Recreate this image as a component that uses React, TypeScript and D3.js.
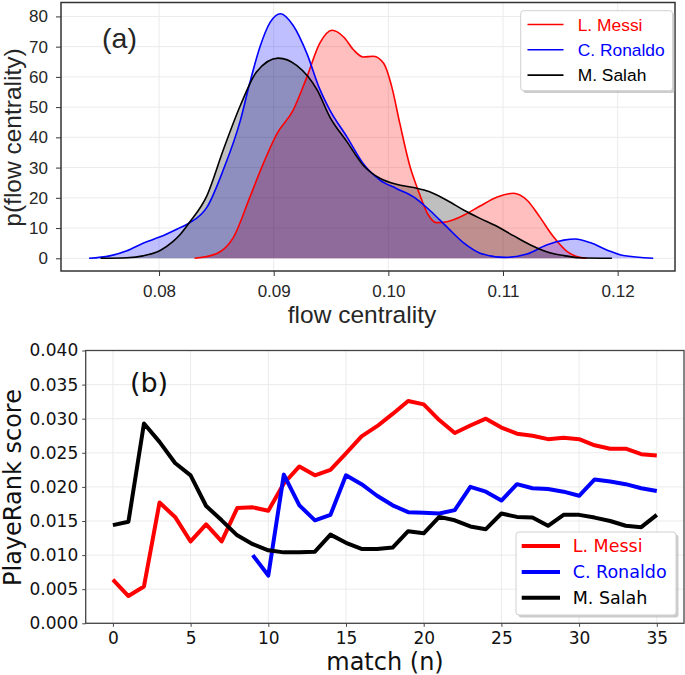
import React, { useEffect, useRef } from 'react';
import * as d3 from 'd3';

// players, same order in both panels
const players = ['L. Messi', 'C. Ronaldo', 'M. Salah'];
const playerColors = ['#ff0000', '#0000ff', '#000000'];
const fillColors = ['rgba(255,0,0,0.25)', 'rgba(0,0,255,0.25)', 'rgba(0,0,0,0.25)'];

// (a) density of flow centrality, [flow centrality, density]
const messiDensity: [number, number][] = [
    [0.0831, 0], [0.0850, 1.5], [0.0865, 7], [0.0879, 20], [0.0891, 31.4], [0.0903, 41.3],
    [0.0917, 49], [0.0929, 60], [0.0940, 71], [0.0951, 75.4], [0.0961, 73.2], [0.0970, 68.8],
    [0.0978, 66.6], [0.0987, 66.8], [0.0996, 64.4], [0.1003, 56.7], [0.1010, 44.6], [0.1019, 30.2],
    [0.1026, 22.5], [0.1034, 14.9], [0.1042, 11.8], [0.1051, 12.1], [0.1066, 14.3], [0.1080, 17.3],
    [0.1095, 20.3], [0.1109, 21.5], [0.1121, 19.2], [0.1132, 13.7], [0.1144, 7.1], [0.1156, 2.2],
    [0.1167, 0.3], [0.1173, 0],
];
const ronaldoDensity: [number, number][] = [
    [0.0739, 0], [0.0757, 0.8], [0.0772, 2.5], [0.0786, 5], [0.0801, 7.1], [0.0817, 9.9],
    [0.0826, 11.6], [0.0842, 17], [0.0856, 29.2], [0.0871, 45.7], [0.0879, 57.8], [0.0888, 69.9],
    [0.0897, 78.1], [0.0906, 80.9], [0.0917, 77], [0.0929, 67.7], [0.0940, 56.1], [0.0949, 49],
    [0.0964, 40.1], [0.0978, 31.4], [0.0993, 25.8], [0.1007, 23.1], [0.1022, 20.3], [0.1036, 15.9],
    [0.1051, 10.4], [0.1066, 5.0], [0.1080, 1.7], [0.1102, 0.3], [0.1121, 1.4], [0.1138, 4.4],
    [0.1153, 6.0], [0.1163, 6.4], [0.1176, 5.2], [0.1191, 2.7], [0.1205, 0.9], [0.1231, 0],
];
const salahDensity: [number, number][] = [
    [0.0749, 0], [0.0772, 0.2], [0.0786, 0.8], [0.0801, 2.6], [0.0812, 5.5], [0.0818, 7.7],
    [0.0826, 11.6], [0.0842, 20.9], [0.0856, 35.8], [0.0871, 50.6], [0.0885, 61.6], [0.0904, 66.2],
    [0.0920, 63.8], [0.0938, 55.6], [0.0949, 46.7], [0.0964, 38.5], [0.0978, 30.8], [0.0993, 26.4],
    [0.1007, 24.5], [0.1022, 23.4], [0.1036, 22], [0.1051, 19.2], [0.1066, 15.9], [0.1080, 13.2],
    [0.1095, 10.5], [0.1109, 7.5], [0.1124, 4.4], [0.1138, 2.2], [0.1153, 0.9], [0.1167, 0.2],
    [0.1195, 0],
];

// (b) PlayeRank score per match
const messiScore = [
    0.0064, 0.0040, 0.0054, 0.0177, 0.0156, 0.0120, 0.0145, 0.0120, 0.0169, 0.0170,
    0.0165, 0.0205, 0.0230, 0.0217, 0.0225, 0.0249, 0.0274, 0.0289, 0.0307, 0.0326,
    0.0321, 0.0298, 0.0279, 0.0290, 0.0300, 0.0287, 0.0278, 0.0275, 0.0270, 0.0272,
    0.0270, 0.0261, 0.0256, 0.0256, 0.0248, 0.0246,
];
const ronaldoFirstMatch = 9;
const ronaldoScore = [
    0.0100, 0.0070, 0.0218, 0.0173, 0.0151, 0.0159, 0.0217, 0.0204, 0.0187, 0.0173,
    0.0163, 0.0162, 0.0161, 0.0166, 0.0200, 0.0193, 0.0180, 0.0204, 0.0198, 0.0197,
    0.0193, 0.0187, 0.0211, 0.0208, 0.0204, 0.0198, 0.0194,
];
const salahScore = [
    0.0144, 0.0149, 0.0293, 0.0266, 0.0235, 0.0217, 0.0172, 0.0151, 0.0129, 0.0116,
    0.0107, 0.0104, 0.0104, 0.0105, 0.0130, 0.0118, 0.0109, 0.0109, 0.0111, 0.0135,
    0.0132, 0.0156, 0.0151, 0.0142, 0.0138, 0.0161, 0.0156, 0.0155, 0.0143, 0.0159,
    0.0159, 0.0155, 0.0150, 0.0143, 0.0141, 0.0159,
];

const flowTicks = [0.08, 0.09, 0.10, 0.11, 0.12];
const densityTicks = [0, 10, 20, 30, 40, 50, 60, 70, 80];
const matchTicks = [0, 5, 10, 15, 20, 25, 30, 35];
const scoreTicks = [0, 0.005, 0.01, 0.015, 0.02, 0.025, 0.03, 0.035, 0.04];

const SANS_A = '"Liberation Sans", Arial, sans-serif';
const SANS_B = '"DejaVu Sans", sans-serif';

const DensityAndRank: React.FC = () => {
    const svgRef = useRef<SVGSVGElement>(null);

    useEffect(() => {
        if (!svgRef.current) return;
        const svg = d3.select(svgRef.current);
        svg.selectAll('*').remove();

        // ---------- panel (a) ----------
        const a = { left: 61, top: 2.5, right: 675, bottom: 271 };
        const xA = d3.scaleLinear().domain([0.07145, 0.125]).range([a.left, a.right]);
        const yA = d3.scaleLinear().domain([-4.2, 84.6]).range([a.bottom, a.top]);
        const gA = svg.append('g');

        // grid
        gA.selectAll('.gx').data(flowTicks).enter().append('line')
            .attr('x1', d => xA(d)).attr('x2', d => xA(d))
            .attr('y1', a.top).attr('y2', a.bottom)
            .attr('stroke', '#ebebeb').attr('stroke-width', 1);
        gA.selectAll('.gy').data(densityTicks).enter().append('line')
            .attr('x1', a.left).attr('x2', a.right)
            .attr('y1', d => yA(d)).attr('y2', d => yA(d))
            .attr('stroke', '#ebebeb').attr('stroke-width', 1);

        const densities = [messiDensity, ronaldoDensity, salahDensity];
        const area = d3.area<[number, number]>()
            .x(d => xA(d[0])).y0(yA(0)).y1(d => yA(d[1]))
            .curve(d3.curveMonotoneX);
        const line = d3.line<[number, number]>()
            .x(d => xA(d[0])).y(d => yA(d[1]))
            .curve(d3.curveMonotoneX);

        densities.forEach((dd, i) => {
            gA.append('path').attr('d', area(dd)).attr('fill', fillColors[i]);
        });
        densities.forEach((dd, i) => {
            gA.append('path').attr('d', line(dd))
                .attr('fill', 'none').attr('stroke', playerColors[i]).attr('stroke-width', 1.6);
        });

        // axes
        const axA = gA.append('g').attr('transform', `translate(0,${a.bottom})`)
            .call(d3.axisBottom(xA).tickValues(flowTicks).tickFormat(d3.format('.2f')).tickSize(5).tickPadding(9));
        const ayA = gA.append('g').attr('transform', `translate(${a.left},0)`)
            .call(d3.axisLeft(yA).tickValues(densityTicks).tickSize(5).tickPadding(8));
        [axA, ayA].forEach(ax => {
            ax.select('.domain').remove();
            ax.selectAll('line').attr('stroke', '#333');
            ax.selectAll('text').attr('fill', '#262626')
                .style('font-family', SANS_A).style('font-size', '17px');
        });

        gA.append('rect')
            .attr('x', a.left).attr('y', a.top)
            .attr('width', a.right - a.left).attr('height', a.bottom - a.top)
            .attr('fill', 'none').attr('stroke', '#333').attr('stroke-width', 1.5);

        gA.append('text')
            .attr('x', (a.left + a.right) / 2 - 6).attr('y', 322.5)
            .attr('text-anchor', 'middle').attr('fill', '#262626')
            .style('font-family', SANS_A).style('font-size', '24.5px')
            .text('flow centrality');
        gA.append('text')
            .attr('transform', `translate(21,137.5) rotate(-90)`)
            .attr('text-anchor', 'middle').attr('fill', '#262626')
            .style('font-family', SANS_A).style('font-size', '24.5px')
            .text('p(flow centrality)');
        gA.append('text')
            .attr('x', 119.5).attr('y', 47.5)
            .attr('text-anchor', 'middle').attr('fill', '#262626')
            .style('font-family', SANS_A).style('font-size', '28.5px')
            .text('(a)');

        // legend (a)
        const legA = gA.append('g');
        legA.append('rect').attr('x', 523).attr('y', 13).attr('width', 152).attr('height', 80)
            .attr('rx', 3).attr('fill', '#999').attr('opacity', 0.5);
        legA.append('rect').attr('x', 520.7).attr('y', 10.7).attr('width', 152).attr('height', 80)
            .attr('rx', 3).attr('fill', '#fff').attr('stroke', '#d0d0d0').attr('stroke-width', 1);
        players.forEach((p, i) => {
            const yy = 24.5 + i * 25.3;
            legA.append('line').attr('x1', 527.5).attr('x2', 563.5).attr('y1', yy).attr('y2', yy)
                .attr('stroke', playerColors[i]).attr('stroke-width', 1.6);
            legA.append('text').attr('x', 577.7).attr('y', yy).attr('dy', '0.35em')
                .attr('fill', playerColors[i])
                .style('font-family', SANS_A).style('font-size', '17.4px')
                .text(p);
        });

        // ---------- panel (b) ----------
        const b = { left: 85.7, top: 350.5, right: 684, bottom: 623.3 };
        const xB = d3.scaleLinear().domain([-1.75, 36.75]).range([b.left, b.right]);
        const yB = d3.scaleLinear().domain([0, 0.04]).range([b.bottom, b.top]);
        const gB = svg.append('g');

        gB.selectAll('.gx').data(matchTicks).enter().append('line')
            .attr('x1', d => xB(d)).attr('x2', d => xB(d))
            .attr('y1', b.top).attr('y2', b.bottom)
            .attr('stroke', '#ebebeb').attr('stroke-width', 1);
        gB.selectAll('.gy').data(scoreTicks).enter().append('line')
            .attr('x1', b.left).attr('x2', b.right)
            .attr('y1', d => yB(d)).attr('y2', d => yB(d))
            .attr('stroke', '#ebebeb').attr('stroke-width', 1);

        const series: [number, number][][] = [
            messiScore.map((v, i) => [i, v] as [number, number]),
            ronaldoScore.map((v, i) => [i + ronaldoFirstMatch, v] as [number, number]),
            salahScore.map((v, i) => [i, v] as [number, number]),
        ];
        const scoreLine = d3.line<[number, number]>().x(d => xB(d[0])).y(d => yB(d[1]));
        series.forEach((s, i) => {
            gB.append('path').attr('d', scoreLine(s))
                .attr('fill', 'none').attr('stroke', playerColors[i])
                .attr('stroke-width', 4).attr('stroke-linejoin', 'round');
        });

        const axB = gB.append('g').attr('transform', `translate(0,${b.bottom})`)
            .call(d3.axisBottom(xB).tickValues(matchTicks).tickSize(3.5).tickPadding(5.5));
        const ayB = gB.append('g').attr('transform', `translate(${b.left},0)`)
            .call(d3.axisLeft(yB).tickValues(scoreTicks).tickFormat(d3.format('.3f')).tickSize(3.5).tickPadding(4));
        [axB, ayB].forEach(ax => {
            ax.select('.domain').remove();
            ax.selectAll('line').attr('stroke', '#444');
            ax.selectAll('text').attr('fill', '#111')
                .style('font-family', SANS_B).style('font-size', '17px');
        });

        gB.append('rect')
            .attr('x', b.left).attr('y', b.top)
            .attr('width', b.right - b.left).attr('height', b.bottom - b.top)
            .attr('fill', 'none').attr('stroke', '#444').attr('stroke-width', 1.3);

        gB.append('text')
            .attr('x', 385).attr('y', 670)
            .attr('text-anchor', 'middle').attr('fill', '#111')
            .style('font-family', SANS_B).style('font-size', '24px')
            .text('match (n)');
        gB.append('text')
            .attr('transform', `translate(20.5,487.5) rotate(-90)`)
            .attr('text-anchor', 'middle').attr('fill', '#111')
            .style('font-family', SANS_B).style('font-size', '24px')
            .text('PlayeRank score');
        gB.append('text')
            .attr('x', 149).attr('y', 391.5)
            .attr('text-anchor', 'middle').attr('fill', '#111')
            .style('font-family', SANS_B).style('font-size', '27px')
            .text('(b)');

        // legend (b)
        const legB = gB.append('g');
        legB.append('rect').attr('x', 518.5).attr('y', 534.5).attr('width', 160).attr('height', 83)
            .attr('rx', 3).attr('fill', '#999').attr('opacity', 0.5);
        legB.append('rect').attr('x', 516).attr('y', 532).attr('width', 160).attr('height', 83)
            .attr('rx', 3).attr('fill', '#fff').attr('stroke', '#d0d0d0').attr('stroke-width', 1);
        players.forEach((p, i) => {
            const yy = 546 + i * 25.9;
            legB.append('line').attr('x1', 521.7).attr('x2', 560).attr('y1', yy).attr('y2', yy)
                .attr('stroke', playerColors[i]).attr('stroke-width', 4);
            legB.append('text').attr('x', 572.7).attr('y', yy).attr('dy', '0.36em')
                .attr('fill', playerColors[i])
                .style('font-family', SANS_B).style('font-size', '17.5px')
                .text(p);
        });
    }, []);

    return (
        <svg
            ref={svgRef}
            width={685}
            height={675}
            viewBox="0 0 685 675"
            style={{ position: 'absolute', left: 0, top: 0, background: '#fff' }}
        />
    );
};

export default function App() {
    return <DensityAndRank />;
}
